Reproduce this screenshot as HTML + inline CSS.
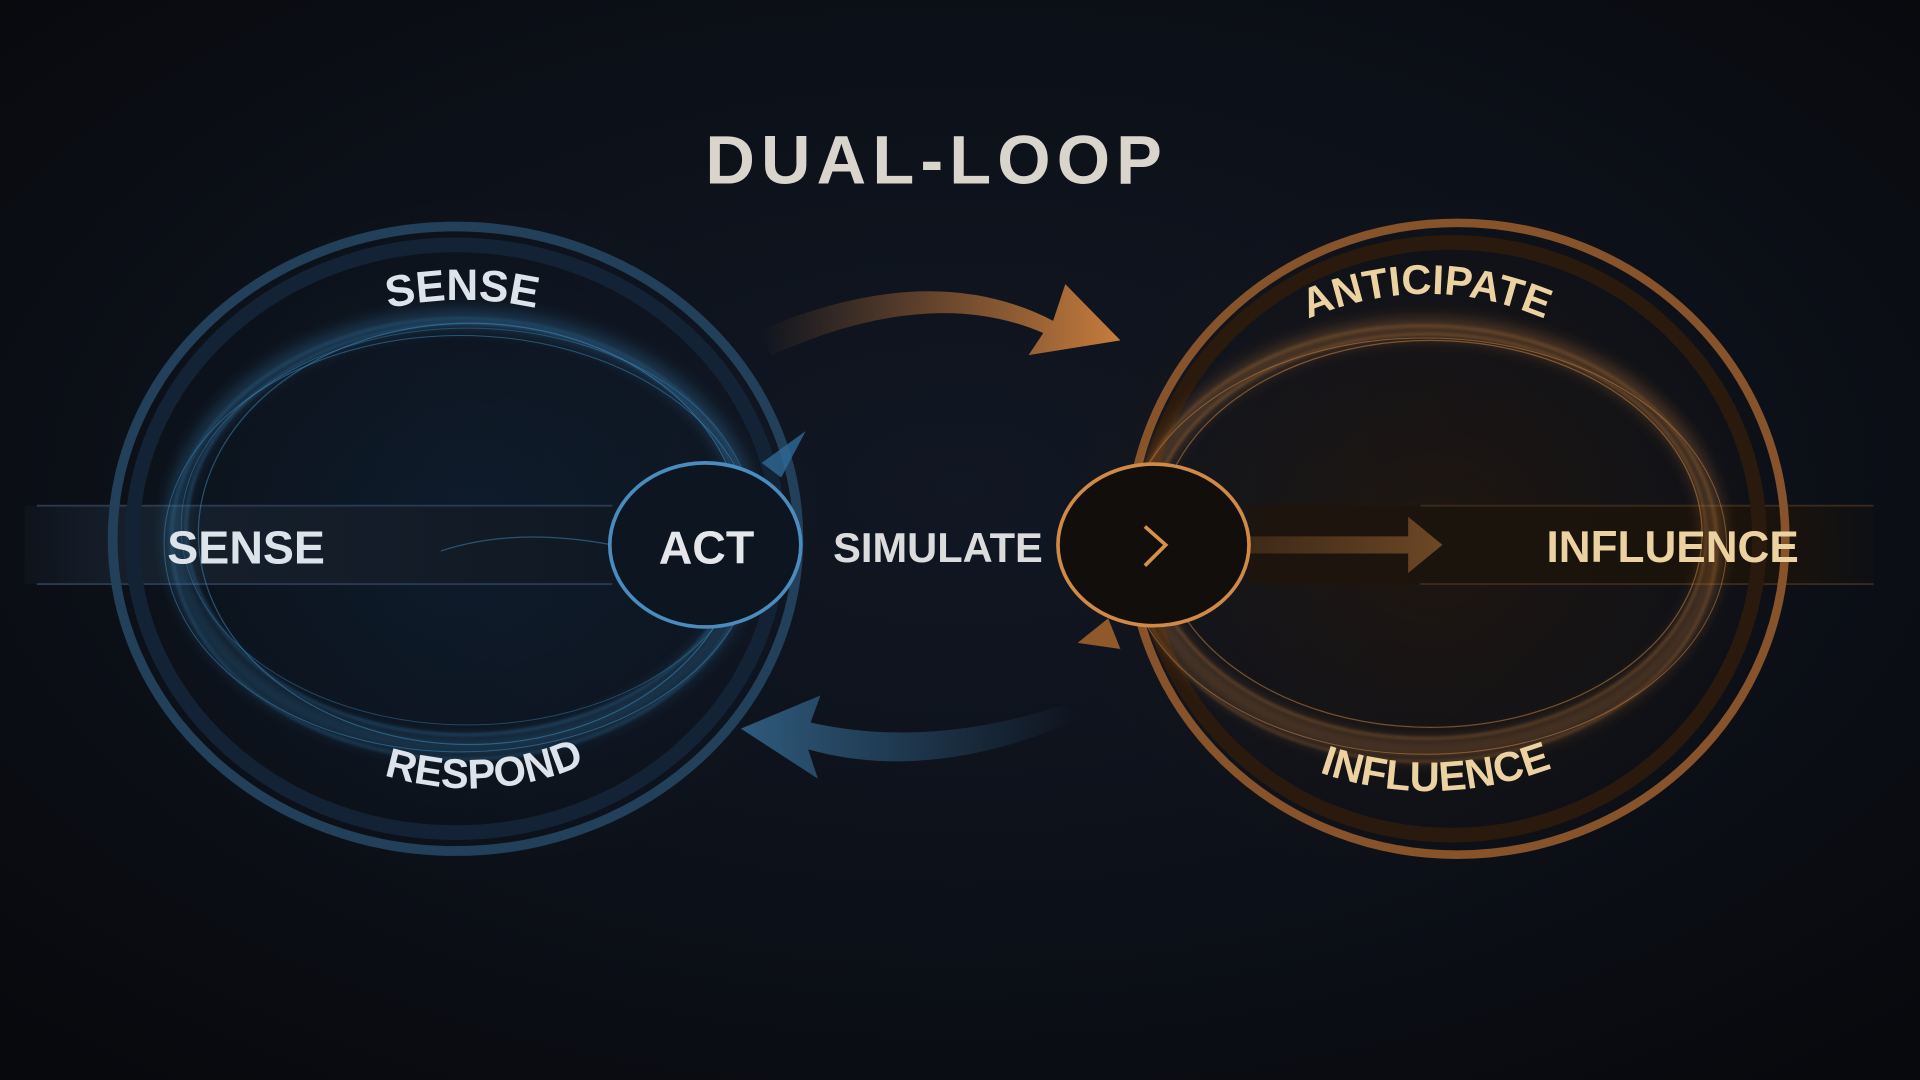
<!DOCTYPE html>
<html><head><meta charset="utf-8"><style>
html,body{margin:0;padding:0;background:#0b0e14;overflow:hidden}
svg{display:block}
text{font-family:"Liberation Sans",sans-serif;font-weight:bold}
</style></head><body>
<svg width="1920" height="1080" viewBox="0 0 1568 882" preserveAspectRatio="none" xmlns="http://www.w3.org/2000/svg">
<defs>
<radialGradient id="bg" cx="0.5" cy="0.45" r="0.7">
<stop offset="0" stop-color="#111723"/><stop offset="0.6" stop-color="#0c1018"/><stop offset="1" stop-color="#08090d"/>
</radialGradient>
<radialGradient id="bglow" cx="0.5" cy="0.5" r="0.5">
<stop offset="0" stop-color="#0d2236" stop-opacity="0.6"/><stop offset="1" stop-color="#0d2236" stop-opacity="0"/>
</radialGradient>
<radialGradient id="oglow" cx="0.5" cy="0.5" r="0.5">
<stop offset="0" stop-color="#2a1808" stop-opacity="0.6"/><stop offset="1" stop-color="#2a1808" stop-opacity="0"/>
</radialGradient>
<linearGradient id="bandL" x1="0" x2="1"><stop offset="0" stop-color="#1a2433" stop-opacity="0.2"/><stop offset="0.2" stop-color="#16202c"/><stop offset="1" stop-color="#101823"/></linearGradient>
<linearGradient id="bandR" x1="0" x2="1"><stop offset="0" stop-color="#1c140d"/><stop offset="0.85" stop-color="#1a130c"/><stop offset="1" stop-color="#1a130c" stop-opacity="0.2"/></linearGradient>
<linearGradient id="arrO" x1="0" x2="1"><stop offset="0" stop-color="#b8733a" stop-opacity="0"/><stop offset="1" stop-color="#c77c3c"/></linearGradient>
<linearGradient id="arrB" x1="0" x2="1"><stop offset="0" stop-color="#2e5a7c"/><stop offset="1" stop-color="#2e5a7c" stop-opacity="0"/></linearGradient>
<linearGradient id="arrM" x1="0" x2="1"><stop offset="0" stop-color="#5a3b20" stop-opacity="0.3"/><stop offset="1" stop-color="#6e4826"/></linearGradient>
<filter id="blur"><feGaussianBlur stdDeviation="6"/></filter>
<filter id="sblur"><feGaussianBlur stdDeviation="1.2"/></filter>
<path id="senseArc" d="M250,275 Q378,215 505,275"/>
<path id="antArc" d="M1030,280 Q1165,200 1300,280"/>
<path id="respArc" d="M290,625 Q400,668 500,613"/>
<path id="inflArc" d="M1055,622 Q1170,672 1290,618"/>
</defs>
<rect width="1568" height="882" fill="url(#bg)"/>
<ellipse cx="380" cy="440" rx="300" ry="280" fill="url(#bglow)"/>
<ellipse cx="1170" cy="440" rx="300" ry="280" fill="url(#oglow)"/>

<rect x="20" y="413" width="490" height="64" fill="url(#bandL)"/>
<line x1="30" y1="413" x2="500" y2="413" stroke="#2a3a50" stroke-width="1.5"/>
<line x1="30" y1="477" x2="500" y2="477" stroke="#2a3a50" stroke-width="1.5"/>
<rect x="1020" y="413" width="510" height="64" fill="url(#bandR)"/>
<line x1="1160" y1="413" x2="1530" y2="413" stroke="#3a2a1c" stroke-width="1.5"/>
<line x1="1160" y1="477" x2="1530" y2="477" stroke="#3a2a1c" stroke-width="1.5"/>

<ellipse cx="372" cy="440" rx="280" ry="255" fill="none" stroke="#22405a" stroke-width="8"/>
<ellipse cx="372" cy="440" rx="264" ry="240" fill="none" stroke="#132235" stroke-width="12"/>
<g fill="none" stroke="#3f8fc4">
<ellipse cx="378" cy="435" rx="236" ry="175" stroke-width="14" opacity="0.3" filter="url(#blur)"/>
<ellipse cx="380" cy="432" rx="228" ry="168" stroke-width="1" opacity="0.7" filter="url(#sblur)"/>
<ellipse cx="378" cy="440" rx="238" ry="180" stroke-width="1" opacity="0.6" filter="url(#sblur)"/>
<ellipse cx="384" cy="436" rx="222" ry="172" stroke-width="1" opacity="0.5"/>
<ellipse cx="376" cy="444" rx="242" ry="170" stroke-width="0.8" opacity="0.5"/>
<ellipse cx="382" cy="430" rx="234" ry="162" stroke-width="0.8" opacity="0.4"/>
<path d="M360,450 Q420,430 500,445" stroke-width="1" opacity="0.5"/>
</g>
<ellipse cx="1190" cy="440" rx="268" ry="258" fill="none" stroke="#87532a" stroke-width="7"/>
<ellipse cx="1185" cy="440" rx="252" ry="242" fill="none" stroke="#2a1a0d" stroke-width="12"/>
<g fill="none" stroke="#d48a45">
<ellipse cx="1165" cy="440" rx="235" ry="172" stroke-width="16" opacity="0.3" filter="url(#blur)"/>
<ellipse cx="1165" cy="438" rx="228" ry="165" stroke-width="1" opacity="0.7" filter="url(#sblur)"/>
<ellipse cx="1162" cy="444" rx="240" ry="178" stroke-width="1" opacity="0.6" filter="url(#sblur)"/>
<ellipse cx="1168" cy="436" rx="222" ry="158" stroke-width="1" opacity="0.5"/>
<ellipse cx="1164" cy="446" rx="246" ry="170" stroke-width="0.8" opacity="0.5"/>
</g>

<path d="M620,270 Q760,210 860,262 L870,232 L915,278 L840,290 L852,272 Q760,232 630,290 Z" fill="url(#arrO)"/>
<path d="M880,588 Q760,640 660,612 L668,636 L605,595 L670,568 L662,590 Q760,612 870,575 Z" fill="url(#arrB)"/>
<path d="M622,378 L658,352 L638,390 Z" fill="#2f6a96" opacity="0.8"/>
<path d="M880,525 L905,505 L915,530 Z" fill="#b06a2e" opacity="0.8"/>
<path d="M955,438 L1150,438 L1150,422 L1178,445 L1150,468 L1150,452 L955,452 Z" fill="url(#arrM)"/>

<ellipse cx="576" cy="445" rx="78" ry="67" fill="#0c1520" stroke="#4a8cbd" stroke-width="3"/>
<ellipse cx="942" cy="445" rx="78" ry="66" fill="#120e0b" stroke="#d08a45" stroke-width="3"/>
<path d="M935,430 L952,445 L935,462" fill="none" stroke="#d79248" stroke-width="3"/>

<text x="765" y="150" text-anchor="middle" font-size="56" fill="#d9d4cc" letter-spacing="5">DUAL-LOOP</text>
<text x="201" y="460" text-anchor="middle" font-size="38" fill="#dde3ea">SENSE</text>
<text x="577" y="460" text-anchor="middle" font-size="38" fill="#e4e6ea">ACT</text>
<text x="766" y="459" text-anchor="middle" font-size="34" fill="#dcdcdc">SIMULATE</text>
<text x="1366" y="459" text-anchor="middle" font-size="36" fill="#ecd2a0">INFLUENCE</text>
<text font-size="36" fill="#dde3ea" text-anchor="middle"><textPath href="#senseArc" startOffset="50%">SENSE</textPath></text>
<text font-size="34" fill="#ecd2a0" text-anchor="middle"><textPath href="#antArc" startOffset="50%">ANTICIPATE</textPath></text>
<text font-size="34" fill="#dde3ea" text-anchor="middle"><textPath href="#respArc" startOffset="50%">RESPOND</textPath></text>
<text font-size="34" fill="#ecd2a0" text-anchor="middle"><textPath href="#inflArc" startOffset="50%">INFLUENCE</textPath></text>
</svg>
</body></html>
